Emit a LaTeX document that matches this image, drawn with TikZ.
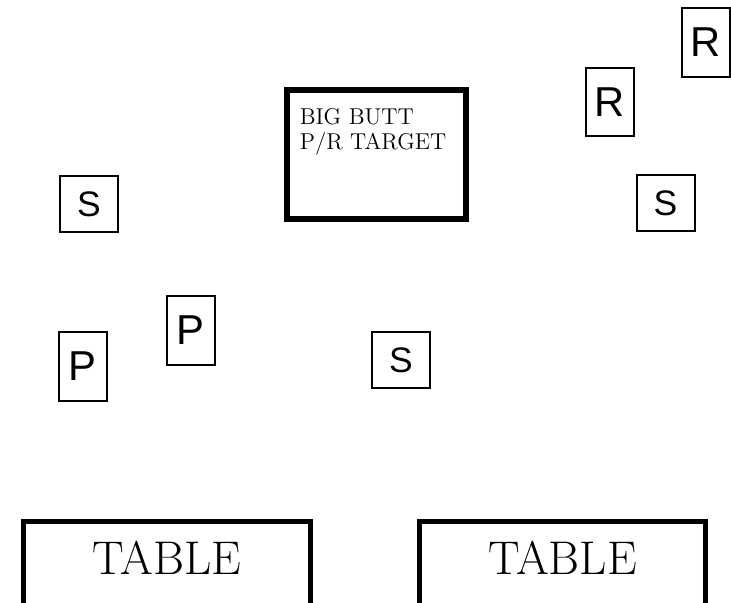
\documentclass[tikz,border=0pt]{standalone}
\usepackage{fontspec}
\newfontfamily\lettfont{Liberation Sans}
\tikzset{
	sbox/.style={draw, line width=1.1pt, minimum width=31.9pt, minimum height=31pt, inner sep=0pt, font=\lettfont\fontsize{19.5}{22}\selectfont},
	tallbox/.style={draw, line width=1.1pt, minimum width=26.4pt, minimum height=37.9pt, inner sep=0pt, font=\lettfont\fontsize{23}{26}\selectfont},
	target/.style={draw, line width=3.3pt, minimum width=98.5pt, minimum height=71pt, inner sep=0pt},
	tableline/.style={line width=2.75pt},
	tabletxt/.style={inner sep=0pt, font=\fontsize{26}{30}\selectfont}
}
\begin{document}
\begin{tikzpicture}[x=0.55pt, y=-0.55pt]
		\useasboundingbox (0,0) rectangle (731,603);
		\clip (0,0) rectangle (731,603);
		
		\node[target] (target) at (376.5,154.5) {};
		\node[anchor=north west, inner sep=0pt, align=left, font=\fontsize{12.6}{13.8}\selectfont] (targetlbl) at ([xshift=8.5pt, yshift=-11.55pt]target.north west) {BIG BUTT\\P/R TARGET};
		
		\foreach \x/\y/\n in {89/204/sl, 665.5/203/sr, 401/360/sm}
		{
			\node[sbox] (\n) at (\x,\y) {S};
		}
		\foreach \x/\y/\n in {706/42.5/ra, 610/102/rb}
		{
			\node[tallbox] (\n) at (\x,\y) {R};
		}
		\foreach \x/\y/\n in {190.5/330.5/pa, 82.5/366.5/pb}
		{
			\node[tallbox] (\n) at (\x,\y) {P};
		}
		
		\foreach \l/\r/\n in {23.5/310.5/tableL, 419.5/705.5/tableR}
		{
			\draw[tableline] (\l,650) |- (\r,521.5) -- (\r,650);
			\node[tabletxt, anchor=base] (\n) at ({(\l+\r)/2},574) {TABLE};
		}
	\end{tikzpicture}
\end{document}
